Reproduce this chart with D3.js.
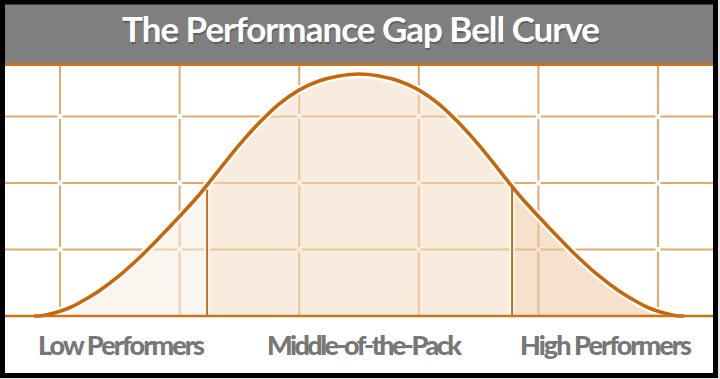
<!DOCTYPE html>
<html>
<head>
<meta charset="utf-8">
<script src="https://cdn.jsdelivr.net/npm/d3@7/dist/d3.min.js"></script>
<style>
  html, body { margin: 0; padding: 0; background: #fff; }
  svg { display: block; }
</style>
</head>
<body>
<svg id="chart" width="720" height="379"></svg>
<script>
// ---- data ----
const title = "The Performance Gap Bell Curve";
const categories = ["Low Performers", "Middle-of-the-Pack", "High Performers"];
// bell curve points (x in grid columns from centre, y in grid rows above baseline)
const curveX = [-2.717, -2.642, -2.508, -2.425, -2.341, -2.174, -2.007, -1.839, -1.672, -1.505, -1.338, -1.171, -1.003, -0.836, -0.669, -0.502, -0.334, -0.167,
                0,
                0.167, 0.334, 0.502, 0.669, 0.836, 1.003, 1.171, 1.338, 1.505, 1.672, 1.839, 2.007, 2.174, 2.341, 2.425, 2.508, 2.642, 2.717];
const curveY = [0, 0.008, 0.068, 0.120, 0.195, 0.376, 0.602, 0.872, 1.173, 1.489, 1.820, 2.195, 2.571, 2.902, 3.188, 3.398, 3.534, 3.609,
                3.639,
                3.609, 3.534, 3.398, 3.188, 2.902, 2.571, 2.195, 1.820, 1.489, 1.173, 0.872, 0.602, 0.376, 0.195, 0.120, 0.068, 0.008, 0];
// segment boundaries (x) and divider tops (y)
const dividerX = [-1.27, 1.28];
const dividerTop = [1.90, 1.95];
const gridX = [-2.5, -1.5, -0.5, 0.5, 1.5, 2.5];
const gridY = [1, 2, 3];
const segmentFills = ["#f7ede1", "#f2dcc4", "#ecc9a2"];

// ---- layout ----
const svg = d3.select("#chart");
const L = 5, R = 713, T = 66, B = 316;
const x = d3.scaleLinear().domain([-2.96, 2.96]).range([L, R]);
const y = d3.scaleLinear().domain([0, 3.76]).range([B, T]);

const pts = curveX.map((v, i) => [v, curveY[i]]);

// background + drop shadow
svg.append("rect").attr("x", 0).attr("y", 0).attr("width", 720).attr("height", 379).attr("fill", "#e6e6e6");
svg.append("rect").attr("x", 0).attr("y", 0).attr("width", 718).attr("height", 378).attr("fill", "#fff");

// gridlines
const grid = svg.append("g").attr("stroke", "#e2ab6d").attr("stroke-width", 2);
grid.selectAll(".gx").data(gridX).join("line")
  .attr("x1", d => x(d)).attr("x2", d => x(d)).attr("y1", T).attr("y2", B);
grid.selectAll(".gy").data(gridY).join("line")
  .attr("x1", L).attr("x2", R).attr("y1", d => y(d)).attr("y2", d => y(d));
// small gaps at intersections
const inters = [];
gridX.forEach(a => gridY.forEach(b => inters.push([a, b])));
svg.append("g").selectAll("rect").data(inters).join("rect")
  .attr("x", d => x(d[0]) - 2.5).attr("y", d => y(d[1]) - 2.5)
  .attr("width", 5).attr("height", 5).attr("fill", "#fff");

// filled areas under curve, split into three segments
const crv = d3.curveCatmullRom.alpha(0.5);
const area = d3.area().x(d => x(d[0])).y0(y(0)).y1(d => y(d[1])).curve(crv);
const bounds = [x.domain()[0], dividerX[0], dividerX[1], x.domain()[1]];
const defs = svg.append("defs");
bounds.slice(0, 3).forEach((b, i) => {
  defs.append("clipPath").attr("id", "seg" + i).append("rect")
    .attr("x", x(b)).attr("y", T).attr("width", x(bounds[i + 1]) - x(b)).attr("height", B - T);
  svg.append("path").datum(pts).attr("d", area)
    .attr("fill", segmentFills[i]).attr("fill-opacity", 0.55)
    .attr("clip-path", "url(#seg" + i + ")");
});

// dividers and curve (white halo then orange)
const line = d3.line().x(d => x(d[0])).y(d => y(d[1])).curve(crv);
const divs = dividerX.map((d, i) => [d, dividerTop[i]]);
svg.append("g").selectAll("line").data(divs).join("line")
  .attr("x1", d => x(d[0])).attr("x2", d => x(d[0])).attr("y1", d => y(d[1])).attr("y2", B)
  .attr("stroke", "#fff").attr("stroke-width", 6).attr("stroke-opacity", 0.8);
svg.append("path").datum(pts).attr("d", line).attr("fill", "none")
  .attr("stroke", "#fff").attr("stroke-width", 8);
svg.append("g").selectAll("line").data(divs).join("line")
  .attr("x1", d => x(d[0])).attr("x2", d => x(d[0])).attr("y1", d => y(d[1])).attr("y2", B)
  .attr("stroke", "#c46d14").attr("stroke-width", 2);
svg.append("path").datum(pts).attr("d", line).attr("fill", "none")
  .attr("stroke", "#c4680b").attr("stroke-width", 3.6);

// baseline
svg.append("line").attr("x1", L).attr("x2", R).attr("y1", B).attr("y2", B)
  .attr("stroke", "#c8741c").attr("stroke-width", 2.5);

// header
svg.append("rect").attr("x", L).attr("y", 4).attr("width", R - L).attr("height", 59).attr("fill", "#7f7f7f");
svg.append("line").attr("x1", L).attr("x2", R).attr("y1", 64.5).attr("y2", 64.5)
  .attr("stroke", "#c8741e").attr("stroke-width", 3);
svg.append("text").text(title)
  .attr("x", 123).attr("y", 43.5).attr("fill", "#000").attr("fill-opacity", 0.25)
  .attr("font-family", "Lato").attr("font-weight", 700).attr("font-size", 35)
  .attr("textLength", 478);
svg.append("text").text(title)
  .attr("x", 122).attr("y", 42).attr("fill", "#fff")
  .attr("font-family", "Lato").attr("font-weight", 700).attr("font-size", 35)
  .attr("textLength", 478);

// category labels
const labelPos = [[38, 167], [267, 195], [520, 172]];
svg.append("g").selectAll("text").data(categories).join("text")
  .text(d => d)
  .attr("x", (d, i) => labelPos[i][0]).attr("y", 355)
  .attr("textLength", (d, i) => labelPos[i][1])
  .attr("fill", "#777")
  .attr("font-family", "Lato").attr("font-weight", 900).attr("font-size", 27);

// outer frame
svg.append("rect").attr("x", 2.5).attr("y", 2).attr("width", 713).attr("height", 373.5)
  .attr("fill", "none").attr("stroke", "#000").attr("stroke-width", 5);
</script>
</body>
</html>
